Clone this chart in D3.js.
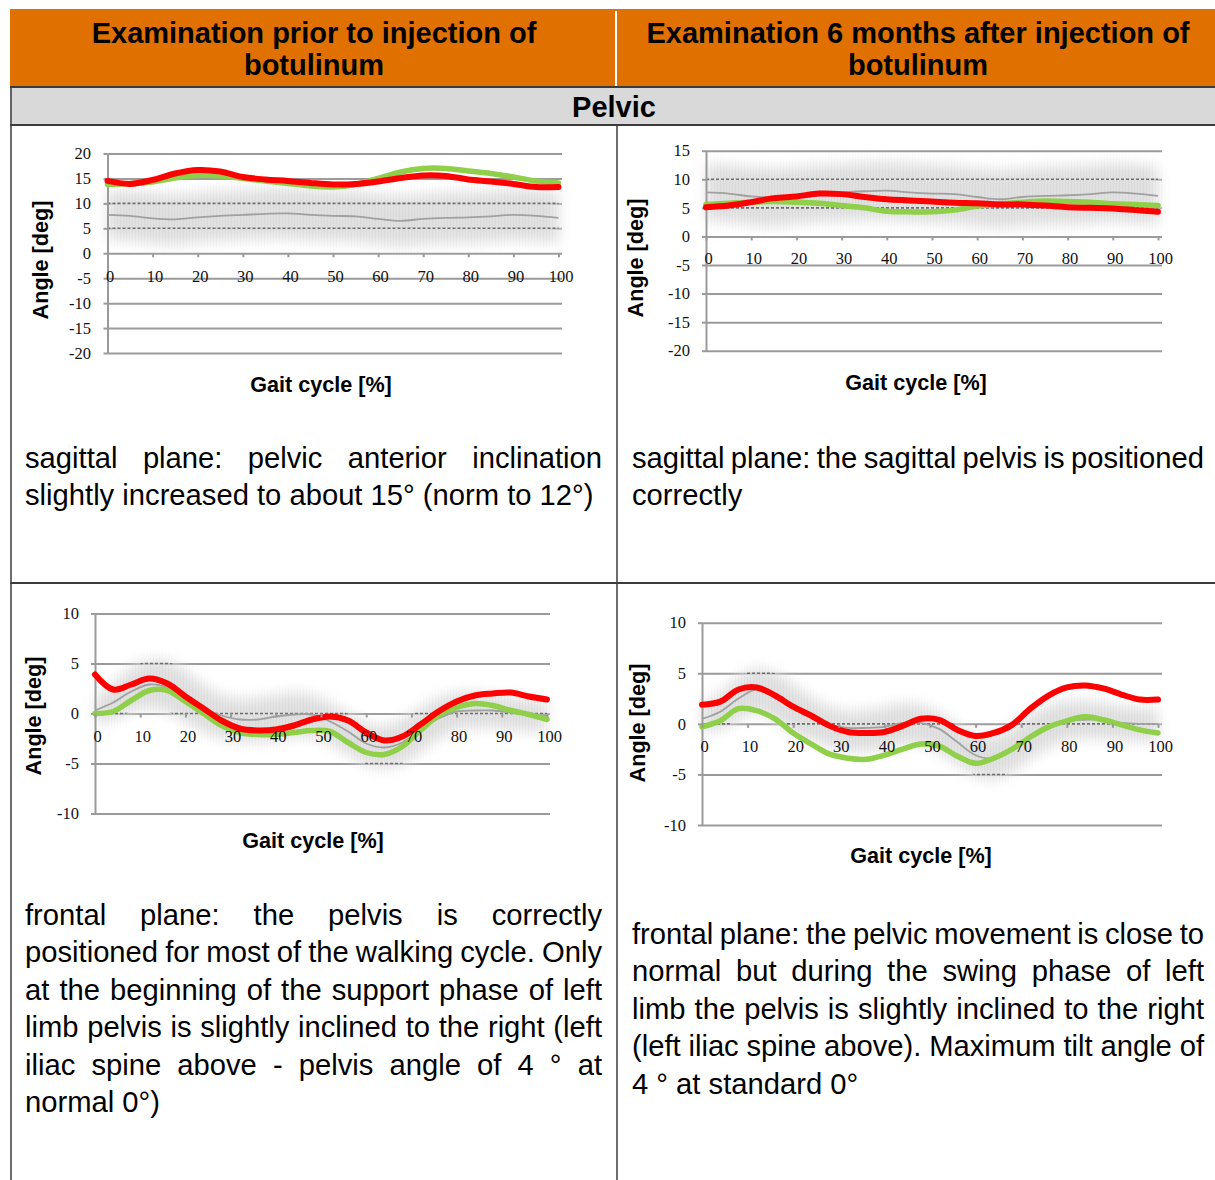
<!DOCTYPE html>
<html lang="en">
<head>
<meta charset="UTF-8">
<title>Pelvic kinematics before and after botulinum</title>
<script src="https://d3js.org/d3.v7.min.js"></script>
<style>
  body { margin: 0; background: #fff; }
  svg { display: block; }
  .head { font-family: "Liberation Sans", Arial, sans-serif; font-weight: bold; font-size: 29px; fill: #000; }
  .body { font-family: "Liberation Sans", Arial, sans-serif; font-size: 29.2px; fill: #000; }
  .tick text { font-family: "Liberation Serif", "Times New Roman", serif; font-size: 16.5px; fill: #111; }
  .title { font-family: "Liberation Sans", Arial, sans-serif; font-weight: bold; font-size: 21.6px; fill: #000; }
</style>
</head>
<body>
<svg id="page" width="1215" height="1180"></svg>
<script>
// ---- data ----
const gaitSag = [0, 5, 10, 15, 20, 25, 30, 35, 40, 45, 50, 55, 60, 65, 70, 75, 80, 85, 90, 95, 100];
const gaitFro = [0, 4, 8, 12, 16, 20, 24, 28, 32, 36, 40, 44, 48, 52, 56, 60, 64, 68, 72, 76, 80, 84, 88, 92, 96, 100];
const xTicks = [0, 10, 20, 30, 40, 50, 60, 70, 80, 90, 100];
const yTicksSagPre = [-20, -15, -10, -5, 0, 5, 10, 15, 20];
const yTicksSagPost = [-20, -15, -10, -5, 0, 5, 10, 15];
const yTicksFro = [-10, -5, 0, 5, 10];

// sagittal, before injection
const redSagPre   = [14.5, 13.9, 14.7, 16.0, 16.7, 16.4, 15.3, 14.8, 14.5, 14.1, 13.8, 13.9, 14.4, 15.1, 15.6, 15.5, 14.8, 14.4, 13.9, 13.3, 13.3];
const greenSagPre = [13.8, 14.0, 14.3, 15.1, 15.6, 15.5, 15.0, 14.5, 14.0, 13.5, 13.3, 13.8, 15.0, 16.3, 17.0, 17.0, 16.5, 16.0, 15.3, 14.5, 14.1];
// sagittal, 6 months after
const redSagPost   = [5.1, 5.4, 6.0, 6.7, 7.0, 7.5, 7.4, 6.9, 6.5, 6.3, 6.1, 5.9, 5.8, 5.6, 5.6, 5.4, 5.1, 5.0, 4.9, 4.6, 4.3];
const greenSagPost = [5.6, 5.8, 6.0, 6.1, 6.0, 5.8, 5.4, 5.0, 4.4, 4.3, 4.3, 4.6, 5.3, 5.7, 6.0, 6.2, 6.1, 6.0, 5.7, 5.6, 5.4];
// sagittal norm
const normSagMean  = [7.7, 7.5, 7.0, 6.8, 7.2, 7.5, 7.7, 7.9, 8.0, 7.7, 7.5, 7.4, 6.9, 6.5, 6.9, 7.1, 7.2, 7.4, 7.7, 7.5, 7.1];
const normSagUpper = [12.6, 12.4, 12.0, 11.8, 12.0, 12.4, 12.6, 12.8, 13.0, 12.7, 12.5, 12.3, 11.8, 11.5, 11.8, 12.1, 12.2, 12.4, 12.7, 12.5, 12.1];
const normSagLower = [2.8, 2.6, 2.1, 1.8, 2.3, 2.6, 2.8, 3.0, 3.0, 2.7, 2.5, 2.4, 1.9, 1.5, 1.9, 2.1, 2.2, 2.4, 2.7, 2.5, 2.1];

// frontal, before injection
const redFroPre   = [3.9, 2.4, 2.9, 3.5, 3.0, 1.7, 0.5, -0.7, -1.5, -1.7, -1.6, -1.2, -0.6, -0.3, -0.7, -1.9, -2.7, -2.3, -1.1, 0.2, 1.2, 1.8, 2.0, 2.1, 1.7, 1.4];
const greenFroPre = [0.0, 0.2, 1.3, 2.3, 2.3, 1.2, 0.0, -1.2, -1.9, -2.1, -2.1, -1.9, -1.7, -1.8, -2.9, -3.9, -4.1, -3.3, -1.7, -0.2, 0.6, 1.0, 0.8, 0.3, -0.1, -0.6];
const meanFroPre  = [0.3, 1.1, 2.2, 2.9, 2.6, 1.6, 0.5, -0.2, -0.6, -0.6, -0.3, -0.1, -0.1, -0.8, -1.8, -3.0, -3.4, -2.9, -1.6, -0.5, 0.2, 0.3, 0.3, 0.1, -0.1, -0.2];
const upperFroPre = [1.5, 3.0, 4.5, 5.3, 5.2, 4.2, 2.8, 1.8, 1.4, 1.5, 1.8, 2.0, 1.8, 1.0, 0.0, -1.0, -1.3, -0.6, 0.5, 1.5, 2.0, 2.0, 1.8, 1.6, 1.4, 1.2];
const lowerFroPre = [-1.0, -0.6, 0.2, 0.6, 0.2, -0.8, -1.8, -2.4, -2.7, -2.8, -2.6, -2.3, -2.3, -3.0, -4.0, -5.1, -5.4, -5.0, -3.8, -2.5, -1.6, -1.4, -1.4, -1.6, -1.7, -1.8];
// frontal, 6 months after
const redFroPost   = [1.9, 2.2, 3.4, 3.6, 2.8, 1.7, 0.8, -0.2, -0.8, -0.9, -0.8, -0.2, 0.5, 0.4, -0.6, -1.2, -0.9, -0.1, 1.5, 2.8, 3.6, 3.8, 3.5, 2.9, 2.4, 2.4];
const greenFroPost = [-0.3, 0.3, 1.5, 1.3, 0.5, -0.9, -2.0, -3.0, -3.4, -3.5, -3.1, -2.5, -2.0, -2.2, -3.2, -3.9, -3.4, -2.5, -1.3, -0.3, 0.3, 0.7, 0.4, -0.1, -0.6, -0.9];
const meanFroPost  = [0.5, 1.2, 2.5, 3.4, 2.8, 1.5, 0.6, -0.1, -0.4, -0.4, -0.3, 0.1, 0.1, -0.5, -1.8, -3.1, -3.4, -2.5, -1.3, -0.3, 0.3, 0.4, 0.4, 0.1, 0.0, 0.0];
const upperFroPost = [1.8, 3.0, 4.6, 5.4, 5.0, 3.8, 2.6, 1.6, 1.2, 1.3, 1.6, 2.0, 1.8, 1.0, -0.2, -1.2, -1.3, -0.4, 0.8, 1.8, 2.2, 2.2, 2.0, 1.7, 1.5, 1.4];
const lowerFroPost = [-0.8, -0.5, 0.4, 1.2, 0.4, -0.9, -1.6, -2.2, -2.6, -2.7, -2.4, -2.0, -2.0, -2.8, -3.9, -5.1, -5.4, -4.7, -3.4, -2.3, -1.6, -1.4, -1.4, -1.6, -1.6, -1.7];

// ---- texts ----
const headLeft = ["Examination prior to injection of", "botulinum"];
const headRight = ["Examination 6 months after injection of", "botulinum"];
const sectionName = "Pelvic";
const textSagPre = ["sagittal plane: pelvic anterior inclination", "slightly increased to about 15° (norm to 12°)"];
const textSagPost = ["sagittal plane: the sagittal pelvis is positioned", "correctly"];
const textFroPre = [
  "frontal plane: the pelvis is correctly",
  "positioned for most of the walking cycle. Only",
  "at the beginning of the support phase of left",
  "limb pelvis is slightly inclined to the right (left",
  "iliac spine above - pelvis angle of 4 ° at",
  "normal 0°)"
];
const textFroPost = [
  "frontal plane: the pelvic movement is close to",
  "normal but during the swing phase of left",
  "limb  the pelvis is slightly inclined to the right",
  "(left iliac spine above). Maximum tilt angle of",
  "4 ° at standard 0°"
];

const svg = d3.select("#page");
const border = "#3c3c3c";
const gridColor = "#9a9a9a";

const defs = svg.append("defs");
defs.append("filter")
  .attr("id", "soft").attr("x", "-20%").attr("y", "-50%").attr("width", "140%").attr("height", "200%")
  .append("feGaussianBlur").attr("stdDeviation", 7);
// faint vertical hatching seen inside the norm band
const hatch = defs.append("pattern").attr("id", "hatch").attr("patternUnits", "userSpaceOnUse")
  .attr("width", 3).attr("height", 10);
hatch.append("rect").attr("width", 1).attr("height", 10).attr("fill", "#cdcdcd");

// ---- table frame ----
svg.append("rect").attr("x", 10).attr("y", 9).attr("width", 1205).attr("height", 77).attr("fill", "#e07000");
svg.append("line").attr("x1", 616).attr("x2", 616).attr("y1", 11).attr("y2", 86).attr("stroke", "#fff").attr("stroke-width", 2);
svg.append("rect").attr("x", 10).attr("y", 87).attr("width", 1205).attr("height", 38).attr("fill", "#d9d9d9");
[87, 125, 583].forEach(yy => {
  svg.append("line").attr("x1", 10).attr("x2", 1215).attr("y1", yy).attr("y2", yy)
    .attr("stroke", border).attr("stroke-width", 2);
});
svg.append("line").attr("x1", 11).attr("x2", 11).attr("y1", 87).attr("y2", 1180).attr("stroke", border).attr("stroke-width", 1.5);
svg.append("line").attr("x1", 617).attr("x2", 617).attr("y1", 125).attr("y2", 1180).attr("stroke", border).attr("stroke-width", 1.5);

headLeft.forEach((t, i) => svg.append("text").attr("class", "head").attr("text-anchor", "middle")
  .attr("x", 314).attr("y", 43 + i * 32).text(t));
headRight.forEach((t, i) => svg.append("text").attr("class", "head").attr("text-anchor", "middle")
  .attr("x", 918).attr("y", 43 + i * 32).text(t));
svg.append("text").attr("class", "head").attr("text-anchor", "middle").attr("x", 614).attr("y", 117).text(sectionName);

// ---- paragraphs (justified line by line) ----
function paragraph(lines, left, width, firstBase) {
  lines.forEach((line, i) => {
    const words = line.trim().split(/\s+/);
    const base = firstBase + i * 37.4;
    if (i === lines.length - 1 || words.length < 2) {
      svg.append("text").attr("class", "body").attr("x", left).attr("y", base).text(words.join(" "));
      return;
    }
    const nodes = words.map(w => svg.append("text").attr("class", "body").attr("y", base).text(w));
    const widths = nodes.map(n => n.node().getComputedTextLength());
    const gap = (width - d3.sum(widths)) / (words.length - 1);
    let cx = left;
    nodes.forEach((n, k) => { n.attr("x", cx); cx += widths[k] + gap; });
  });
}
paragraph(textSagPre, 25, 577, 468);
paragraph(textSagPost, 632, 572, 468);
paragraph(textFroPre, 25, 577, 925);
paragraph(textFroPost, 632, 572, 944);

// ---- charts ----
const charts = [
  { id: "c1", x0: 107.5, x1: 558.5, gridEnd: 562, yTop: 153.5, yBot: 353, domain: [-20, 20], yTicks: yTicksSagPre,
    xLabelY: 276, yLabelRight: 91, yTitle: [48, 260], xTitle: [321, 392],
    gait: gaitSag, red: redSagPre, green: greenSagPre, mean: normSagMean, upper: normSagUpper, lower: normSagLower },
  { id: "c2", x0: 706, x1: 1158, gridEnd: 1162, yTop: 150.7, yBot: 350.7, domain: [-20, 15], yTicks: yTicksSagPost,
    xLabelY: 258, yLabelRight: 690, yTitle: [643, 258], xTitle: [916, 390],
    gait: gaitSag, red: redSagPost, green: greenSagPost, mean: normSagMean, upper: normSagUpper, lower: normSagLower },
  { id: "c3", x0: 95, x1: 547, gridEnd: 550, yTop: 613.5, yBot: 813.5, domain: [-10, 10], yTicks: yTicksFro,
    xLabelY: 736, yLabelRight: 79, yTitle: [41, 716], xTitle: [313, 848],
    gait: gaitFro, red: redFroPre, green: greenFroPre, mean: meanFroPre, upper: upperFroPre, lower: lowerFroPre },
  { id: "c4", x0: 702, x1: 1158, gridEnd: 1162, yTop: 622.7, yBot: 825, domain: [-10, 10], yTicks: yTicksFro,
    xLabelY: 746, yLabelRight: 686, yTitle: [645, 723], xTitle: [921, 863],
    gait: gaitFro, red: redFroPost, green: greenFroPost, mean: meanFroPost, upper: upperFroPost, lower: lowerFroPost }
];

function drawChart(c) {
  const g = svg.append("g");
  const x = d3.scaleLinear().domain([0, 100]).range([c.x0, c.x1]);
  const y = d3.scaleLinear().domain(c.domain).range([c.yBot, c.yTop]);
  const pts = k => c.gait.map((p, i) => [p, c[k][i]]);

  // horizontal gridlines
  g.append("g").attr("transform", `translate(${c.x0},0)`)
    .call(d3.axisRight(y).tickValues(c.yTicks).tickSize(c.gridEnd - c.x0).tickFormat(""))
    .call(a => a.select(".domain").remove())
    .call(a => a.selectAll("line").attr("stroke", gridColor).attr("stroke-width", 2));

  // norm band: soft fill, hatching and dashed grid inside it
  const band = d3.area().x(d => x(d[0])).y0(d => y(d[1])).y1(d => y(d[2])).curve(d3.curveCatmullRom);
  const bandData = c.gait.map((p, i) => [p, c.lower[i], c.upper[i]]);
  g.append("path").attr("d", band(bandData)).attr("fill", "#e1e1e1").attr("filter", "url(#soft)");
  defs.append("mask").attr("id", "mask-" + c.id).attr("maskUnits", "userSpaceOnUse")
    .attr("x", 0).attr("y", 0).attr("width", 1215).attr("height", 1180)
    .append("path").attr("d", band(bandData)).attr("fill", "#fff").attr("filter", "url(#soft)");
  g.append("rect").attr("x", c.x0).attr("y", c.yTop).attr("width", c.gridEnd - c.x0).attr("height", c.yBot - c.yTop)
    .attr("fill", "url(#hatch)").attr("opacity", 0.35).attr("mask", `url(#mask-${c.id})`);
  g.append("clipPath").attr("id", "clip-" + c.id).append("path").attr("d", band(bandData));
  g.append("g").attr("clip-path", `url(#clip-${c.id})`)
    .selectAll("line").data(c.yTicks).join("line")
    .attr("x1", c.x0).attr("x2", c.gridEnd).attr("y1", d => y(d)).attr("y2", d => y(d))
    .attr("stroke", "#6e6e6e").attr("stroke-width", 1.6).attr("stroke-dasharray", "3,2");

  // left axis
  g.append("g").attr("transform", `translate(${c.x0},0)`)
    .call(d3.axisLeft(y).tickValues(c.yTicks).tickSize(4).tickSizeOuter(0)
      .tickPadding(c.x0 - c.yLabelRight - 4).tickFormat(d => String(d)))
    .call(a => a.select(".domain").attr("stroke", gridColor).attr("stroke-width", 2))
    .call(a => a.selectAll("line").attr("stroke", gridColor).attr("stroke-width", 2));

  // series
  const line = d3.line().x(d => x(d[0])).y(d => y(d[1])).curve(d3.curveCatmullRom);
  g.append("path").attr("d", line(pts("mean"))).attr("fill", "none").attr("stroke", "#a0a0a0").attr("stroke-width", 1.8);
  g.append("path").attr("d", line(pts("green"))).attr("fill", "none").attr("stroke", "#8fcf4a")
    .attr("stroke-width", 5.5).attr("stroke-linecap", "round");
  g.append("path").attr("d", line(pts("red"))).attr("fill", "none").attr("stroke", "#ff0000")
    .attr("stroke-width", 6).attr("stroke-linecap", "round");

  // bottom axis on the zero line
  const y0 = y(0);
  g.append("g").attr("transform", `translate(0,${y0})`)
    .call(d3.axisBottom(x).tickValues(xTicks).tickSize(4).tickSizeOuter(0))
    .call(a => a.select(".domain").remove())
    .call(a => a.selectAll("line").attr("stroke", gridColor).attr("stroke-width", 2))
    .call(a => a.selectAll("text").attr("y", c.xLabelY - y0).attr("dy", "0.35em").attr("dx", 2));

  // titles
  svg.append("text").attr("class", "title").attr("text-anchor", "middle")
    .attr("transform", `translate(${c.yTitle[0]},${c.yTitle[1]}) rotate(-90)`).text("Angle [deg]");
  svg.append("text").attr("class", "title").attr("text-anchor", "middle")
    .attr("x", c.xTitle[0]).attr("y", c.xTitle[1]).text("Gait cycle [%]");
}
charts.forEach(drawChart);
</script>
</body>
</html>
